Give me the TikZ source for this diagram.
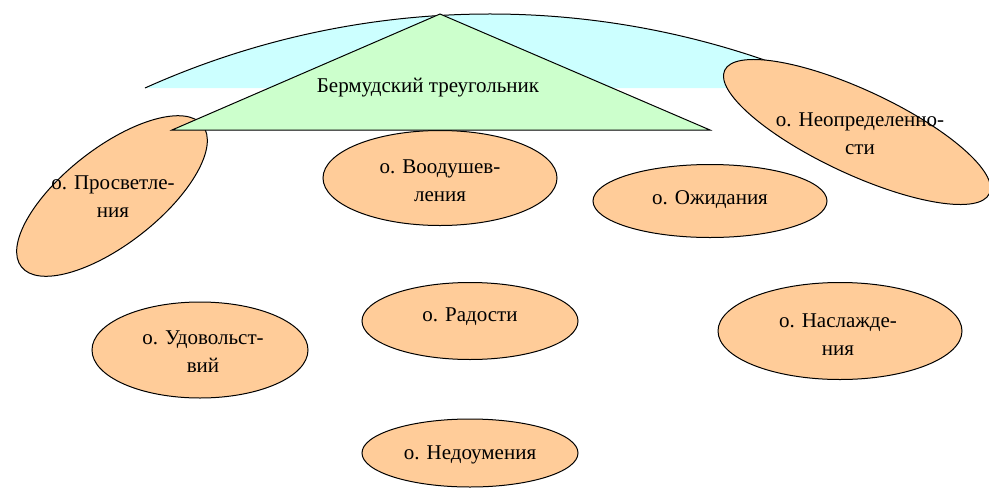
\documentclass[tikz,border=0pt]{standalone}
\usepackage{fontspec}
\newfontfamily\serfont{Liberation Serif}
\usetikzlibrary{shapes.geometric}
\definecolor{peach}{RGB}{255,204,153}
\definecolor{lgreen}{RGB}{204,255,204}
\definecolor{lblue}{RGB}{204,255,255}
\begin{document}
\begin{tikzpicture}[x=1pt,y=-1pt,
  oval/.style={ellipse, draw=black, fill=peach, line width=1pt, inner sep=0pt},
  lbl/.style={font=\serfont\fontsize{21}{28}\selectfont, align=center, inner sep=0pt},
  outline/.style={draw=black, line width=1pt}]
\useasboundingbox (0,0) rectangle (989,488);
% light blue segment
\coordinate (segL) at (145,88);
\fill[lblue] (segL) arc[start angle=114.22, end angle=65.78, radius=841pt] -- cycle;
\draw[outline] (segL) arc[start angle=114.22, end angle=65.78, radius=841pt];
% ellipses
\node[oval, minimum width=230pt, minimum height=96pt, rotate=38] (prosv) at (112,196) {};
\node[lbl] (prosvt) at (113,197) {о. Просветле-\\ния};
\node[oval, minimum width=234pt, minimum height=95pt] (vood) at (440,178) {};
\node[lbl] (voodt) at (440,181) {о. Воодушев-\\ления};
\node[oval, minimum width=234pt, minimum height=73pt] (ozh) at (710,201) {};
\node[lbl] (ozht) at (710,200) {о. Ожидания};
\node[oval, minimum width=292pt, minimum height=84pt, rotate=-25] (neopr) at (857,132) {};
\node[lbl] (neoprt) at (860,134) {о. Неопределенно-\\сти};
\node[oval, minimum width=216pt, minimum height=96pt] (udov) at (200,350) {};
\node[lbl] (udovt) at (203,352) {о. Удовольст-\\вий};
\node[oval, minimum width=216pt, minimum height=77pt] (rad) at (470,321) {};
\node[lbl] (radt) at (470,317) {о. Радости};
\node[oval, minimum width=216pt, minimum height=68pt] (nedo) at (470,453) {};
\node[lbl] (nedot) at (470,455) {о. Недоумения};
\node[oval, minimum width=244pt, minimum height=97pt] (nasl) at (840,331) {};
\node[lbl] (naslt) at (838,335) {о. Наслажде-\\ния};
% triangle
\coordinate (apex) at (440,14);
\coordinate (bl) at (172,130);
\coordinate (br) at (710,130);
\filldraw[fill=lgreen, outline] (apex) -- (bl) -- (br) -- cycle;
\node[lbl] (tri) at (428,88) {Бермудский треугольник};
\end{tikzpicture}
\end{document}
